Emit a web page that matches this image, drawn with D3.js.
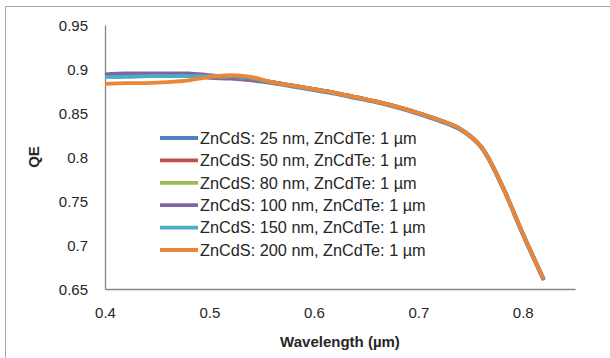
<!DOCTYPE html>
<meta charset="utf-8">
<style>
  body { margin: 0; background: #fff; }
  text { font-family: "Liberation Sans", "DejaVu Sans", sans-serif; fill: #262626; }
  .tick text { font-size: 15px; }
  .legend text { font-size: 16.3px; }
  .title { font-size: 15px; font-weight: bold; }
</style>
<svg width="610" height="358"></svg>
<script src="https://cdn.jsdelivr.net/npm/d3@7"></script>
<script>

  // wavelength in µm
  var wavelength = [0.40, 0.42, 0.44, 0.46, 0.48, 0.50, 0.52, 0.54, 0.56, 0.58, 0.60,
                    0.62, 0.64, 0.66, 0.68, 0.70, 0.72, 0.74, 0.76, 0.78, 0.80, 0.82];

  var tail = [0.885, 0.881, 0.877, 0.873, 0.868, 0.863, 0.857, 0.850, 0.842, 0.832, 0.812, 0.768, 0.713, 0.661];

  var qe25  = [0.892, 0.893, 0.893, 0.893, 0.892, 0.890, 0.889, 0.887].concat([0.884, 0.880, 0.876, 0.872, 0.867, 0.862, 0.856, 0.849, 0.841, 0.831, 0.811, 0.767, 0.712, 0.660]);
  var qe50  = [0.892, 0.893, 0.893, 0.894, 0.893, 0.891, 0.890, 0.888].concat(tail);
  var qe80  = [0.893, 0.894, 0.894, 0.894, 0.894, 0.892, 0.891, 0.889].concat(tail);
  var qe100 = [0.894, 0.895, 0.895, 0.895, 0.895, 0.893, 0.891, 0.889].concat(tail);
  var qe150 = [0.891, 0.891, 0.892, 0.892, 0.892, 0.892, 0.892, 0.890].concat(tail);
  var qe200 = [0.883, 0.884, 0.884, 0.885, 0.887, 0.891, 0.893, 0.891].concat(tail);

  var names = ["ZnCdS: 25 nm, ZnCdTe: 1 \u00b5m", "ZnCdS: 50 nm, ZnCdTe: 1 \u00b5m",
               "ZnCdS: 80 nm, ZnCdTe: 1 \u00b5m", "ZnCdS: 100 nm, ZnCdTe: 1 \u00b5m",
               "ZnCdS: 150 nm, ZnCdTe: 1 \u00b5m", "ZnCdS: 200 nm, ZnCdTe: 1 \u00b5m"];
  var allQE = [qe25, qe50, qe80, qe100, qe150, qe200];
  var colors = ["#4f81bd", "#c0504d", "#9bbb59", "#8064a2", "#4bacc6", "#ec8535"];

  var xTicks = [0.4, 0.5, 0.6, 0.7, 0.8];
  var yTicks = [0.65, 0.7, 0.75, 0.8, 0.85, 0.9, 0.95];

  var svg = d3.select("svg");

  // outer chart frame (only top and left show in the window)
  svg.append("rect")
    .attr("x", 5.5).attr("y", 6.5)
    .attr("width", 620).attr("height", 370)
    .attr("fill", "none").attr("stroke", "#a6a6a6");

  var x = d3.scaleLinear().domain([0.4, 0.85]).range([105, 575]);
  var y = d3.scaleLinear().domain([0.65, 0.95]).range([289, 25]);

  // axes
  var xAxis = svg.append("g")
    .attr("transform", "translate(0,289)")
    .call(d3.axisBottom(x).tickValues(xTicks).tickSize(0).tickPadding(18).tickFormat(d3.format("")));
  xAxis.select(".domain").attr("stroke", "#868686").attr("stroke-width", 1.3);

  var yAxis = svg.append("g")
    .attr("transform", "translate(105,0)")
    .call(d3.axisLeft(y).tickValues(yTicks).tickSize(0).tickPadding(17).tickFormat(d3.format("")));
  yAxis.select(".domain").attr("stroke", "#868686").attr("stroke-width", 1.3);
  yAxis.selectAll(".tick text").attr("dy", "0.35em");

  svg.selectAll(".tick text").attr("fill", "#262626");

  // axis titles
  svg.append("text").attr("class", "title")
    .attr("x", 340).attr("y", 347)
    .attr("text-anchor", "middle")
    .text("Wavelength (\u00b5m)");

  svg.append("text").attr("class", "title")
    .attr("transform", "translate(39,157) rotate(-90)")
    .attr("text-anchor", "middle")
    .text("QE");

  // lines
  var line = d3.line()
    .x(function(d) { return x(d[0]); })
    .y(function(d) { return y(d[1]); })
    .curve(d3.curveCatmullRom.alpha(0.5));

  allQE.forEach(function(vals, i) {
    svg.append("path")
      .datum(wavelength.map(function(w, j) { return [w, vals[j]]; }))
      .attr("fill", "none")
      .attr("stroke", colors[i])
      .attr("stroke-width", 3.8)
      .attr("stroke-linejoin", "round")
      .attr("d", line);
  });

  // legend
  var legend = svg.append("g").attr("class", "legend")
    .attr("transform", "translate(160,138)");

  var item = legend.selectAll("g")
    .data(names)
    .enter().append("g")
    .attr("transform", function(d, i) { return "translate(0," + (i * 22.4) + ")"; });

  item.append("line")
    .attr("x1", 0).attr("x2", 38)
    .attr("stroke", function(d, i) { return colors[i]; })
    .attr("stroke-width", 3.8);

  item.append("text")
    .attr("x", 40).attr("dy", "0.35em")
    .text(function(d) { return d; });

</script>
